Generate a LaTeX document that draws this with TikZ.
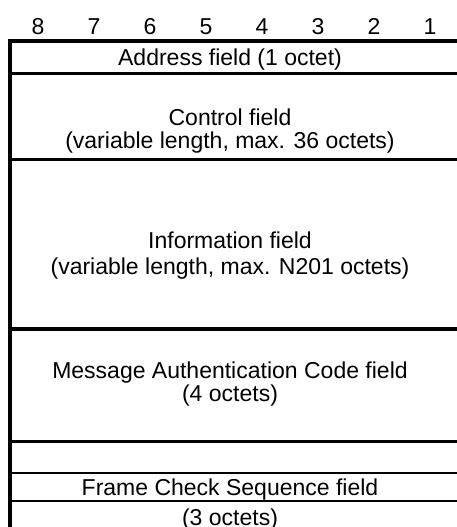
\documentclass[tikz,border=0pt]{standalone}
\usepackage{fontspec}
\setmainfont{Liberation Sans}
\begin{document}
\begin{tikzpicture}[x=1pt,y=-1pt,
  thick rule/.style={line width=3.4pt},
  thin rule/.style={line width=1.8pt},
  lbl/.style={inner sep=0pt,anchor=base,font=\fontsize{23}{25}\selectfont}]
\useasboundingbox (0,0) rectangle (457,527);
\clip (0,0) rectangle (457,527);
% bit numbers
\foreach \b [count=\i from 0] in {8,7,6,5,4,3,2,1}
  \node[lbl] (bit\b) at ({38+56*\i},34.5) {\b};
% left border
\draw[line width=4pt] (10.3,39.4) -- (10.3,530);
% rules
\draw[thick rule] (8.3,41) -- (470,41);
\draw[thick rule] (10,73.5) -- (470,73.5);
\draw[thick rule] (10,159.5) -- (470,159.5);
\draw[thick rule] (10,329) -- (470,329);
\draw[thick rule] (10,441.5) -- (470,441.5);
\draw[thin rule] (10,473) -- (470,473);
\draw[thin rule] (10,501) -- (470,501);
% field texts
\node[lbl] (addr) at (230,65.5) {Address field (1 octet)};
\node[lbl] (ctl1) at (230,125) {Control field};
\node[lbl] (ctl2) at (230,148) {(variable length, max. 36 octets)};
\node[lbl] (inf1) at (230,248) {Information field};
\node[lbl] (inf2) at (230,274) {(variable length, max. N201 octets)};
\node[lbl] (mac1) at (230,378) {Message Authentication Code field};
\node[lbl] (mac2) at (230,401) {(4 octets)};
\node[lbl] (fcs1) at (230,495) {Frame Check Sequence field};
\node[lbl] (fcs2) at (230,525.5) {(3 octets)};
\end{tikzpicture}
\end{document}
